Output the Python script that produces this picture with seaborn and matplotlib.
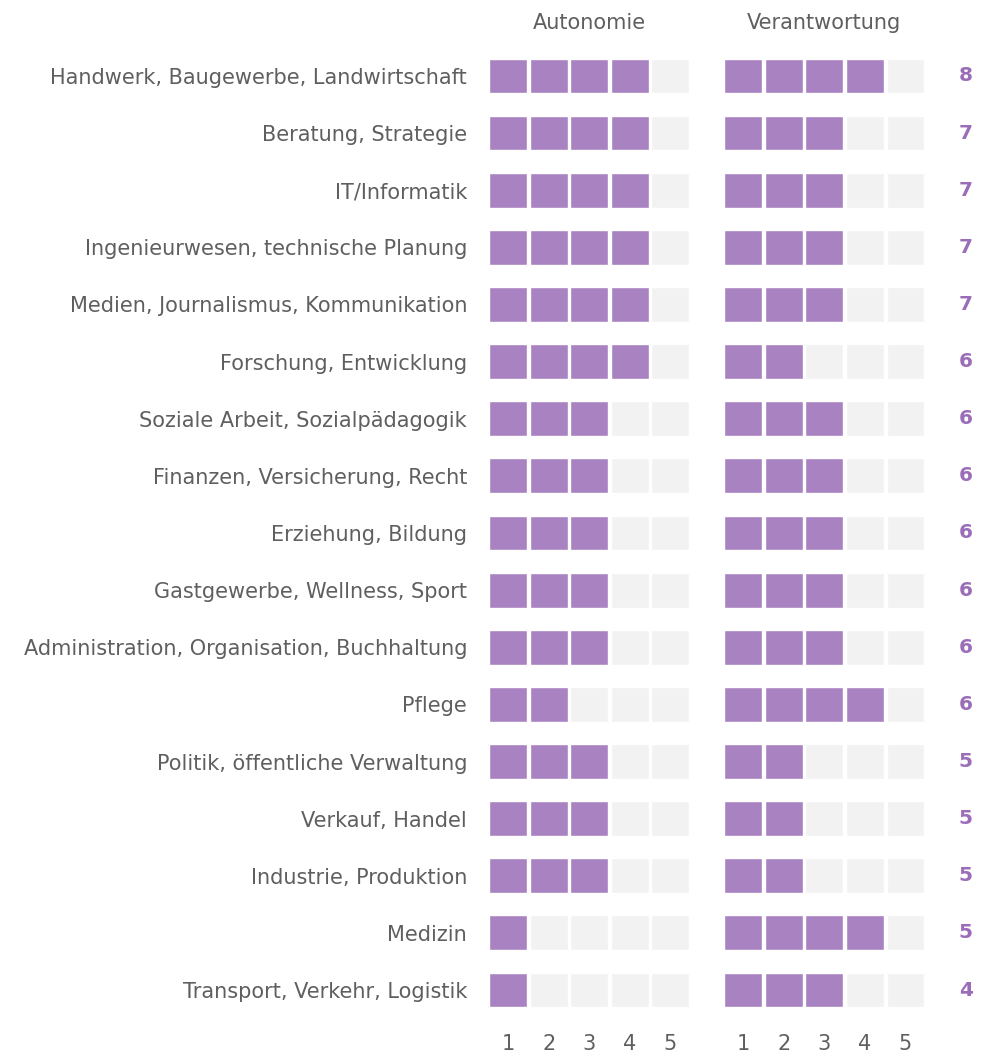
import numpy as np
import pandas as pd
import matplotlib.pyplot as plt
import seaborn as sns

# Daten
kategorien = [
    "Handwerk, Baugewerbe, Landwirtschaft",
    "Beratung, Strategie",
    "IT/Informatik",
    "Ingenieurwesen, technische Planung",
    "Medien, Journalismus, Kommunikation",
    "Forschung, Entwicklung",
    "Soziale Arbeit, Sozialpädagogik",
    "Finanzen, Versicherung, Recht",
    "Erziehung, Bildung",
    "Gastgewerbe, Wellness, Sport",
    "Administration, Organisation, Buchhaltung",
    "Pflege",
    "Politik, öffentliche Verwaltung",
    "Verkauf, Handel",
    "Industrie, Produktion",
    "Medizin",
    "Transport, Verkehr, Logistik",
]
autonomie = [4, 4, 4, 4, 4, 4, 3, 3, 3, 3, 3, 2, 3, 3, 3, 1, 1]
verantwortung = [4, 3, 3, 3, 3, 2, 3, 3, 3, 3, 3, 4, 2, 2, 2, 4, 3]
stufen = [1, 2, 3, 4, 5]

df = pd.DataFrame({"Kategorie": kategorien,
                   "Autonomie": autonomie,
                   "Verantwortung": verantwortung})
df["Summe"] = df["Autonomie"] + df["Verantwortung"]

sns.set_theme(style="white")
plt.rcParams["font.family"] = ["DejaVu Sans"]

LILA = "#a882c1"
LILA_DUNKEL = "#9b6db8"
GRAU = "#f2f2f2"
TEXT = "#5f5f5f"
FS = 15

fig = plt.figure(figsize=(9.81, 10.55), dpi=100)
bottom, height = 0.0345, 0.9206
ax1 = fig.add_axes([0.4973, bottom, 0.2067, height])
ax2 = fig.add_axes([0.7369, bottom, 0.2067, height])

y = np.arange(len(df))
for ax, spalte in [(ax1, "Autonomie"), (ax2, "Verantwortung")]:
    for k in stufen:
        farben = [LILA if v >= k else GRAU for v in df[spalte]]
        ax.barh(y, width=0.93, left=k - 0.465, height=0.61, color=farben)
    ax.set_xlim(0.5, 5.5)
    ax.set_ylim(len(df) - 0.5, -0.5)
    ax.set_xticks(stufen)
    ax.set_xticklabels([str(s) for s in stufen], fontsize=FS, color=TEXT)
    ax.tick_params(axis="x", length=0, pad=11)
    ax.set_title(spalte, fontsize=FS, color=TEXT, pad=13)
    sns.despine(ax=ax, left=True, bottom=True)

ax1.set_yticks(y)
ax1.set_yticklabels(df["Kategorie"], fontsize=FS, color=TEXT)
ax1.tick_params(axis="y", length=0, pad=15)
ax2.set_yticks([])

for i, s in enumerate(df["Summe"]):
    ax2.text(6.49, i, str(s), ha="center", va="center", fontsize=FS - 0.5,
             fontweight="bold", color=LILA_DUNKEL, clip_on=False)

fig.savefig("out.png", dpi=100)
